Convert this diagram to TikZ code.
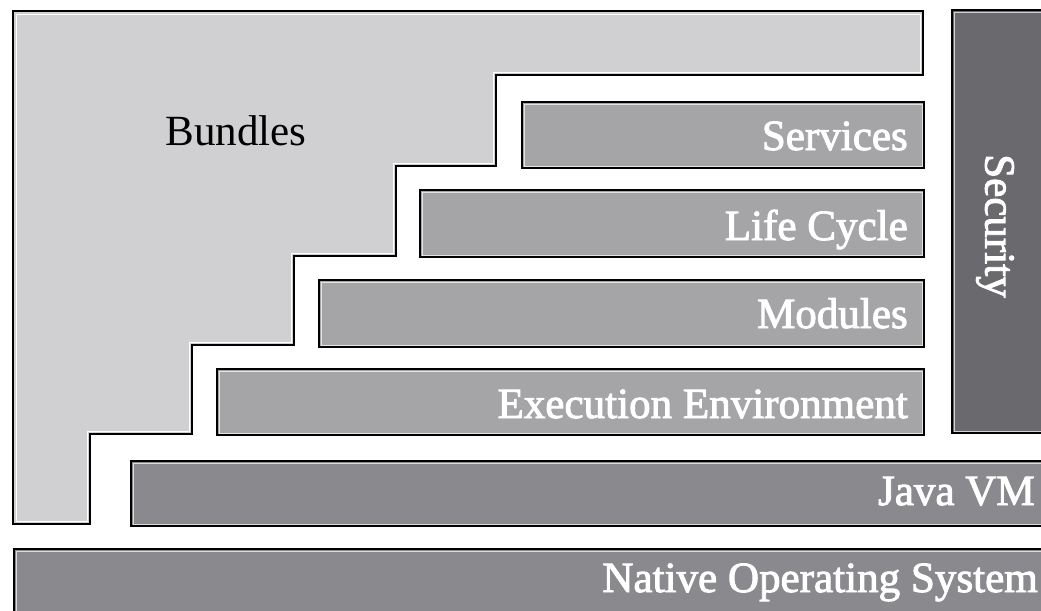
\documentclass[tikz,border=0pt]{standalone}
\usepackage{fontspec}
\setmainfont{Liberation Serif}
% white lettering with a thin dark edge (fill-and-stroke text rendering)
\newcommand\glowtext[1]{\leavevmode
  \special{pdf:literal direct q 2 Tr 0.7 w 0.25 G 1 g}%
  \textcolor{white}{#1}%
  \special{pdf:literal direct Q}}
\begin{document}
\begin{tikzpicture}[x=0.75pt,y=-0.75pt,
  layer/.style={draw=black,line width=1.7pt},
  rim/.style={draw=white,line width=0.6pt},
  light/.style={fill={rgb,255:red,208;green,208;blue,210}},
  mid/.style={fill={rgb,255:red,165;green,165;blue,168}},
  deep/.style={fill={rgb,255:red,138;green,138;blue,142}},
  darkest/.style={fill={rgb,255:red,106;green,106;blue,110}},
  lbl/.style={font=\fontsize{32.3}{34}\selectfont,inner sep=0pt},
]
\useasboundingbox (0,0) rectangle (1041,610);
\fill[white] (0,0) rectangle (1041,610);
\clip (0,0) rectangle (1041,610);

% Bundles: staircase region above and left of the framework layers
\path[layer,light] (13,11) -- (923,11) -- (923,75) -- (496,75) -- (496,166)
  -- (396,166) -- (396,256) -- (294,256) -- (294,345) -- (192,345)
  -- (192,434) -- (90,434) -- (90,524) -- (13,524) -- cycle;
\draw[rim] (16,14) -- (920,14) -- (920,72) -- (493,72) -- (493,163)
  -- (393,163) -- (393,253) -- (291,253) -- (291,342) -- (189,342)
  -- (189,431) -- (87,431) -- (87,521) -- (16,521) -- cycle;
\node[lbl,anchor=base] (bundles) at (236,145) {Bundles};

% framework layers
\node[layer,mid,rectangle,anchor=north west,minimum width=402*0.75pt,minimum height=66*0.75pt] (services) at (521,101) {};
\node[layer,mid,rectangle,anchor=north west,minimum width=504*0.75pt,minimum height=67*0.75pt] (lifecycle) at (419,189) {};
\node[layer,mid,rectangle,anchor=north west,minimum width=605*0.75pt,minimum height=67*0.75pt] (modules) at (318,279) {};
\node[layer,mid,rectangle,anchor=north west,minimum width=707*0.75pt,minimum height=66*0.75pt] (exec) at (216,368) {};
\node[layer,darkest,rectangle,anchor=north west,minimum width=110*0.75pt,minimum height=423*0.75pt] (security) at (951,9) {};
\node[layer,deep,rectangle,anchor=north west,minimum width=930*0.75pt,minimum height=65*0.75pt] (jvm) at (130,460) {};
\node[layer,deep,rectangle,anchor=north west,minimum width=1050*0.75pt,minimum height=80*0.75pt] (os) at (13,548) {};

% thin light rims just inside each layer
\foreach \n in {services,lifecycle,modules,exec,security,jvm,os}{
  \draw[rim,opacity=0.7] ([xshift=2.2pt,yshift=-2.2pt]\n.north west) rectangle ([xshift=-2.2pt,yshift=2.2pt]\n.south east);
}

% layer labels
\node[lbl,anchor=base east] (tsv) at (908,150) {\glowtext{Services}};
\node[lbl,anchor=base east] (tlc) at (908,240) {\glowtext{Life Cycle}};
\node[lbl,anchor=base east] (tmd) at (908,328) {\glowtext{Modules}};
\node[lbl,anchor=base east] (tex) at (908,418) {\glowtext{Execution Environment}};
\node[lbl,anchor=base east] (tjv) at (1035,505) {\glowtext{Java VM}};
\node[lbl,anchor=base east] (tos) at (1038,592) {\glowtext{Native Operating System}};
\node[lbl,rotate=-90] (tsec) at (995,226) {\glowtext{Security}};
\end{tikzpicture}
\end{document}
